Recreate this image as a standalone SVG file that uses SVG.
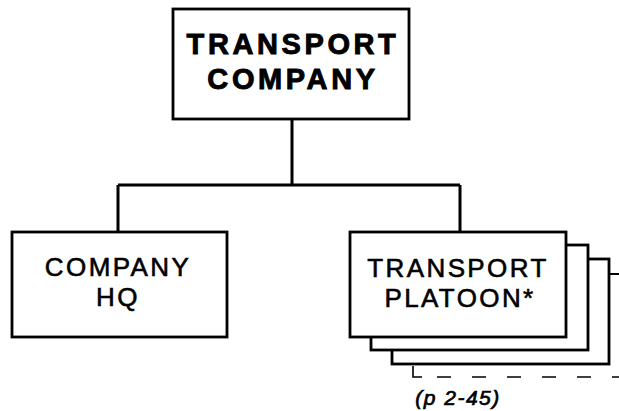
<svg xmlns="http://www.w3.org/2000/svg" width="619" height="411" viewBox="0 0 619 411">
<style>
.box{fill:#fff;stroke:#000;stroke-width:2.8}
.ln{fill:none;stroke:#000;stroke-width:3}
.t{font-family:"Liberation Sans",Arial,Helvetica,sans-serif;fill:#000;stroke:#000;text-anchor:middle}
.b{font-weight:bold;font-size:29px;letter-spacing:3.6px;stroke-width:0.9px}
.r{font-size:26px;letter-spacing:2.4px;stroke-width:0.6px}
.i{font-style:italic;font-size:21px;letter-spacing:1.5px;stroke-width:0.7px}
</style>
<rect width="619" height="411" fill="#fff"/>
<g id="connectors">
<path class="ln" d="M292,119 V185 M118,185 H460 M118,185 V232 M460,185 V232"/>
</g>
<g id="transport-company">
<rect class="box" x="173" y="9" width="236" height="110"/>
<text class="t b" x="293" y="54">TRANSPORT</text>
<text class="t b" x="293" y="89">COMPANY</text>
</g>
<g id="company-hq">
<rect class="box" x="12" y="232" width="215" height="105"/>
<text class="t r" x="118" y="276">COMPANY</text>
<text class="t r" x="118" y="306">HQ</text>
</g>
<g id="transport-platoon">
<path fill="none" stroke="#000" stroke-width="1.6" d="M413,366 V377 H422"/>
<path fill="none" stroke="#000" stroke-width="1.6" stroke-dasharray="14 21" d="M437,377 H619"/>
<path fill="none" stroke="#000" stroke-width="2" d="M609,274 H619"/>
<rect class="box" x="392" y="259" width="217" height="105"/>
<rect class="box" x="371" y="245" width="217" height="105"/>
<rect class="box" x="350" y="232" width="216" height="105"/>
<text class="t r" x="458" y="277">TRANSPORT</text>
<text class="t r" x="460" y="307">PLATOON*</text>
<text class="t i" x="458" y="405">(p 2-45)</text>
</g>
</svg>
